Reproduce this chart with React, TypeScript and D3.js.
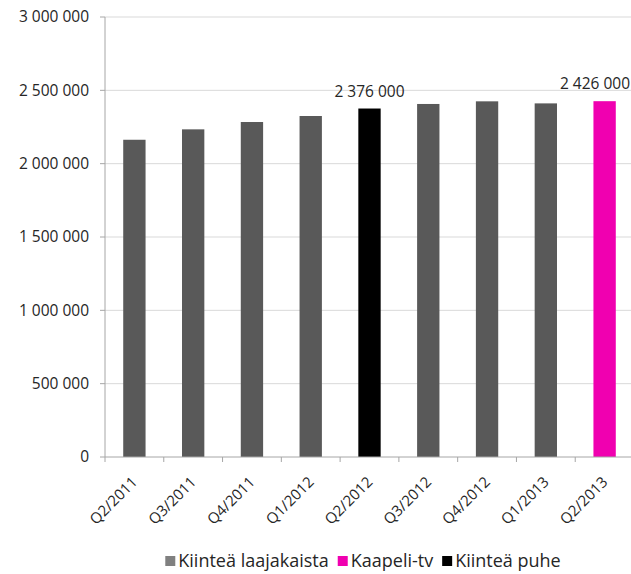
import React from "react";
import * as d3 from "d3";

const categories = ["Q2/2011","Q3/2011","Q4/2011","Q1/2012","Q2/2012","Q3/2012","Q4/2012","Q1/2013","Q2/2013"];
const values = [2163000, 2234000, 2284000, 2325000, 2376000, 2407000, 2425000, 2411000, 2426000];
const seriesOf = ["laajakaista","laajakaista","laajakaista","laajakaista","puhe","laajakaista","laajakaista","laajakaista","tv"];
const labelled = [false,false,false,false,true,false,false,false,true];
const yTicks = [0, 500000, 1000000, 1500000, 2000000, 2500000, 3000000];
const legendItems = [
  { key: "laajakaista", label: "Kiinteä laajakaista" },
  { key: "tv", label: "Kaapeli-tv" },
  { key: "puhe", label: "Kiinteä puhe" },
];

const barColor: Record<string, string> = { laajakaista: "#595959", tv: "#f000b0", puhe: "#000000" };
const legendColor: Record<string, string> = { laajakaista: "#808080", tv: "#f000b0", puhe: "#000000" };

const W = 631, H = 574;
const left = 105, right = 634, top = 17, bottom = 457;
const font = "'Open Sans', sans-serif";
const legendFont = 18;

const fmt = (v: number) => d3.format(",")(v).replace(/,/g, " ");

function measure(text: string, size: number): number {
  if (typeof document === "undefined") return text.length * size * 0.5;
  const c = document.createElement("canvas").getContext("2d");
  if (!c) return text.length * size * 0.5;
  c.font = `${size}px 'Open Sans'`;
  return c.measureText(text).width;
}

export default function App() {
  const x = d3.scaleBand<string>().domain(categories).range([left, right]).paddingInner(0.62).paddingOuter(0.31);
  const step = x.step();
  const y = d3.scaleLinear().domain([0, 3000000]).range([bottom, top]);
  const bw = x.bandwidth();

  const sq = 10, sqGap = 3, itemGap = 9;
  const widths = legendItems.map((d) => sq + sqGap + measure(d.label, legendFont));
  const total = widths.reduce((a, b) => a + b, 0) + itemGap * (widths.length - 1);
  let lx = 363 - total / 2;
  const legendPos = widths.map((w) => { const p = lx; lx += w + itemGap; return p; });

  return (
    <div style={{ position: "fixed", left: 0, top: 0 }}>
      <svg width={W} height={H} style={{ display: "block", background: "#fff" }} fontFamily={font}>
        {yTicks.map((t) => (
          <g key={t}>
            {t > 0 && <line x1={left} x2={right} y1={y(t)} y2={y(t)} stroke="#d9d9d9" strokeWidth={1} />}
            <line x1={left - 5} x2={left} y1={y(t)} y2={y(t)} stroke="#a6a6a6" />
            <text x={89} y={y(t)} dy="0.35em" textAnchor="end" fontSize={15.5} fill="#262626">{fmt(t)}</text>
          </g>
        ))}
        {categories.map((c, i) => (
          <rect key={c} x={x(c)} y={y(values[i])} width={bw} height={bottom - y(values[i])} fill={barColor[seriesOf[i]]} />
        ))}
        <line x1={left} x2={left} y1={top} y2={bottom} stroke="#a6a6a6" />
        <line x1={left} x2={right} y1={bottom} y2={bottom} stroke="#a6a6a6" />
        {categories.map((c, i) => (
          <line key={"t" + i} x1={left + i * step} x2={left + i * step} y1={bottom} y2={bottom + 5} stroke="#a6a6a6" />
        ))}
        {categories.map((c) => {
          const cx = (x(c) as number) + bw / 2 + 4;
          const cy = bottom + 26;
          return (
            <text key={"l" + c} transform={`translate(${cx},${cy}) rotate(-45)`} textAnchor="end" fontSize={15} fill="#262626">{c}</text>
          );
        })}
        {categories.map((c, i) => {
          if (!labelled[i]) return null;
          const cx = Math.min((x(c) as number) + bw / 2, W - 36);
          return (
            <text key={"v" + c} x={cx} y={y(values[i]) - 12} textAnchor="middle" fontSize={15.5} fill="#262626">{fmt(values[i])}</text>
          );
        })}
        {legendItems.map((d, i) => (
          <g key={d.key} transform={`translate(${legendPos[i]},561)`}>
            <rect x={0} y={-5} width={sq} height={sq} fill={legendColor[d.key]} />
            <text x={sq + sqGap} y={0} dy="0.35em" fontSize={legendFont} fill="#262626">{d.label}</text>
          </g>
        ))}
      </svg>
    </div>
  );
}
